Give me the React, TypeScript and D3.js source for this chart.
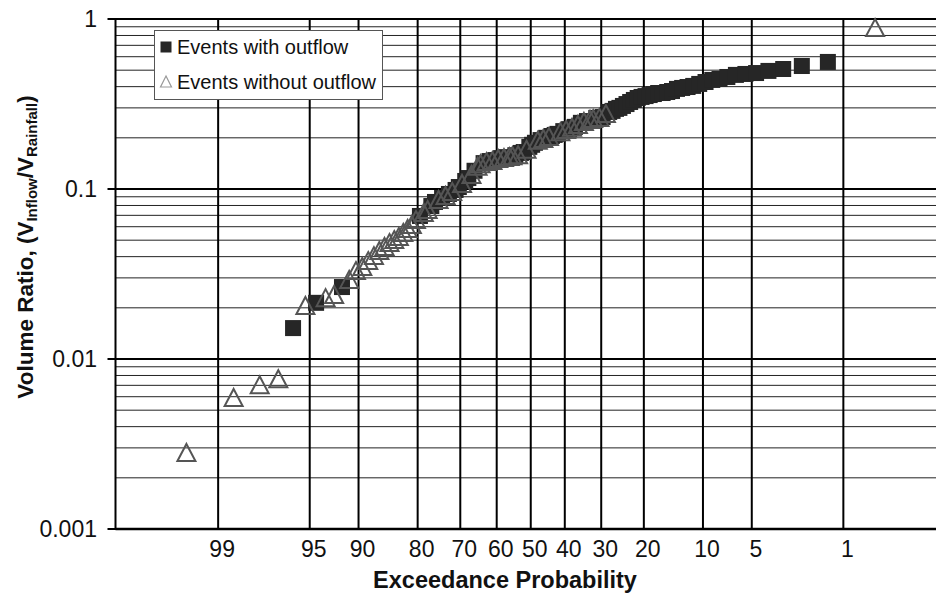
import React from "react";
import * as d3 from "d3";

// ---------------- data ----------------
const N_EVENTS = 120; // total ranked events (plotting position: Blom)

const withOutflowRank = [5, 7, 10, 25, 28, 29, 31, 33, 35, 36, 38, 39, 41, 44, 46, 48, 50, 52, 55, 57, 58, 60, 61, 62, 64, 66, 68, 69, 70, 72, 74, 76, 78, 80, 83, 85, 87, 88, 89, 90, 91, 92, 93, 94, 95, 96, 97, 98, 99, 100, 101, 102, 103, 104, 105, 106, 107, 108, 109, 110, 111, 112, 113, 114, 115, 116, 117, 118, 119];
const withOutflowValue = [0.0152, 0.0214, 0.0265, 0.0694, 0.0794, 0.0839, 0.0885, 0.0935, 0.0987, 0.1027, 0.1115, 0.116, 0.128, 0.142, 0.146, 0.148, 0.152, 0.154, 0.158, 0.163, 0.165, 0.177, 0.182, 0.187, 0.194, 0.2, 0.205, 0.208, 0.211, 0.219, 0.225, 0.232, 0.245, 0.251, 0.262, 0.265, 0.284, 0.288, 0.296, 0.3, 0.308, 0.316, 0.325, 0.334, 0.343, 0.348, 0.352, 0.357, 0.362, 0.367, 0.367, 0.372, 0.377, 0.388, 0.393, 0.398, 0.404, 0.415, 0.426, 0.438, 0.444, 0.456, 0.469, 0.475, 0.481, 0.495, 0.508, 0.529, 0.559];

const withoutOutflowRank = [1, 2, 3, 4, 6, 8, 9, 11, 12, 13, 14, 15, 16, 17, 18, 19, 20, 21, 22, 23, 24, 26, 27, 30, 32, 34, 37, 40, 42, 43, 45, 47, 49, 51, 53, 54, 56, 59, 63, 65, 67, 71, 73, 75, 77, 79, 81, 82, 84, 86, 120];
const withoutOutflowValue = [0.0028, 0.0059, 0.007, 0.0076, 0.0205, 0.0228, 0.0238, 0.0292, 0.0329, 0.0348, 0.0377, 0.0403, 0.0432, 0.0456, 0.0481, 0.0501, 0.0522, 0.0551, 0.0582, 0.0614, 0.0657, 0.0723, 0.0752, 0.0862, 0.091, 0.096, 0.107, 0.121, 0.135, 0.14, 0.144, 0.146, 0.15, 0.152, 0.154, 0.156, 0.158, 0.17, 0.192, 0.197, 0.202, 0.216, 0.222, 0.229, 0.238, 0.248, 0.255, 0.258, 0.262, 0.276, 0.885];

const xTickValues = [99, 95, 90, 80, 70, 60, 50, 40, 30, 20, 10, 5, 1];
const xTickLabels = ["99", "95", "90", "80", "70", "60", "50", "40", "30", "20", "10", "5", "1"];
const yTickValues = [1, 0.1, 0.01, 0.001];
const yTickLabels = ["1", "0.1", "0.01", "0.001"];
const legendLabels = ["Events with outflow", "Events without outflow"];

// ---------------- helpers ----------------
function probit(p: number): number {
  const a = [-3.969683028665376e1, 2.209460984245205e2, -2.759285104469687e2, 1.38357751867269e2, -3.066479806614716e1, 2.506628277459239];
  const b = [-5.447609879822406e1, 1.615858368580409e2, -1.556989798598866e2, 6.680131188771972e1, -1.328068155288572e1];
  const c = [-7.784894002430293e-3, -3.223964580411365e-1, -2.400758277161838, -2.549732539343734, 4.374664141464968, 2.938163982698783];
  const d = [7.784695709041462e-3, 3.224671290700398e-1, 2.445134137142996, 3.754408661907416];
  const pl = 0.02425;
  if (p < pl) {
    const q = Math.sqrt(-2 * Math.log(p));
    return (((((c[0] * q + c[1]) * q + c[2]) * q + c[3]) * q + c[4]) * q + c[5]) / ((((d[0] * q + d[1]) * q + d[2]) * q + d[3]) * q + 1);
  }
  if (p <= 1 - pl) {
    const q = p - 0.5, r = q * q;
    return ((((((a[0] * r + a[1]) * r + a[2]) * r + a[3]) * r + a[4]) * r + a[5]) * q) / (((((b[0] * r + b[1]) * r + b[2]) * r + b[3]) * r + b[4]) * r + 1);
  }
  const q = Math.sqrt(-2 * Math.log(1 - p));
  return -(((((c[0] * q + c[1]) * q + c[2]) * q + c[3]) * q + c[4]) * q + c[5]) / ((((d[0] * q + d[1]) * q + d[2]) * q + d[3]) * q + 1);
}

// exceedance probability (%) of a ranked event (rank 1 = smallest)
const exceedance = (rank: number) => 100 * (1 - (rank - 0.375) / (N_EVENTS + 0.25));

const W = 936, H = 595;
const PL = 115.5, PR = 946, PT = 19, PB = 529;

const zScale = d3.scaleLinear().domain([probit(0.001), probit(0.999)]).range([PL, PR]);
const xPos = (exc: number) => zScale(probit(1 - exc / 100));
const yScale = d3.scaleLog().domain([0.001, 1]).range([PB, PT]);

const FONT = "'Liberation Sans', Arial, Helvetica, sans-serif";

export default function App() {
  const minorY: number[] = [];
  [0.001, 0.01, 0.1].forEach((dec) => {
    for (let k = 2; k <= 9; k++) minorY.push(k * dec);
  });

  const squares = withOutflowRank.map((r, i) => ({ x: xPos(exceedance(r)), y: yScale(withOutflowValue[i]) }));
  const triangles = withoutOutflowRank.map((r, i) => ({ x: xPos(exceedance(r)), y: yScale(withoutOutflowValue[i]) }));

  const sq = 16;
  const triW = 18, triH = 16;
  const triPath = (x: number, y: number, w: number, h: number) =>
    `M${x},${y - h / 2 - 1}L${x + w / 2},${y + h / 2}L${x - w / 2},${y + h / 2}Z`;

  return (
    <svg width={W} height={H} style={{ position: "absolute", left: 0, top: 0, background: "#fff" }} fontFamily={FONT}>
      <rect x={0} y={0} width={W} height={H} fill="#fff" />
      {/* minor horizontal gridlines */}
      {minorY.map((v, i) => (
        <line key={"mh" + i} x1={PL} x2={W} y1={yScale(v)} y2={yScale(v)} stroke="#222" strokeWidth={1} />
      ))}
      {/* major horizontal gridlines + ticks */}
      {yTickValues.map((v, i) => (
        <line key={"Mh" + i} x1={PL - 8} x2={W} y1={yScale(v)} y2={yScale(v)} stroke="#000" strokeWidth={2} />
      ))}
      {/* vertical gridlines */}
      {xTickValues.map((v, i) => (
        <line key={"v" + i} x1={xPos(v)} x2={xPos(v)} y1={PT} y2={PB} stroke="#000" strokeWidth={2} />
      ))}
      {/* axes */}
      <line x1={PL} x2={PL} y1={PT - 1} y2={PB + 1} stroke="#000" strokeWidth={2} />
      <line x1={PL} x2={W} y1={PB} y2={PB} stroke="#000" strokeWidth={2.5} />

      {/* squares */}
      {squares.map((p, i) => (
        <rect key={"s" + i} x={p.x - sq / 2} y={p.y - sq / 2} width={sq} height={sq} fill="#262626" />
      ))}
      {/* triangles */}
      {triangles.map((p, i) => (
        <path key={"t" + i} d={triPath(p.x, p.y, triW, triH)} fill="none" stroke="#555" strokeWidth={2} strokeLinejoin="miter" />
      ))}

      {/* y tick labels */}
      {yTickValues.map((v, i) => (
        <text key={"yl" + i} x={97} y={yScale(v)} dy="0.36em" textAnchor="end" fontSize={23} fill="#111">
          {yTickLabels[i]}
        </text>
      ))}
      {/* x tick labels */}
      {xTickValues.map((v, i) => (
        <text key={"xl" + i} x={xPos(v) + 4} y={557} textAnchor="middle" fontSize={23} fill="#111">
          {xTickLabels[i]}
        </text>
      ))}

      {/* axis titles */}
      <text x={505} y={588} textAnchor="middle" fontSize={23.5} fontWeight="bold" fill="#111">
        Exceedance Probability
      </text>
      <text transform="translate(33,247) rotate(-90)" textAnchor="middle" fontSize={22.5} fontWeight="bold" fill="#111">
        Volume Ratio, (V
        <tspan fontSize={15} dy={4}>Inflow</tspan>
        <tspan dy={-4}>/V</tspan>
        <tspan fontSize={15} dy={4}>Rainfall</tspan>
        <tspan dy={-4}>)</tspan>
      </text>

      {/* legend */}
      <g>
        <rect x={154.5} y={30.5} width={228} height={69} fill="#fff" stroke="#555" strokeWidth={1} />
        <rect x={160.5} y={41.5} width={11} height={11} fill="#262626" />
        <path d={triPath(166, 82, 11, 10)} fill="none" stroke="#999" strokeWidth={1.2} />
        <text x={177} y={54} fontSize={20} fill="#111">{legendLabels[0]}</text>
        <text x={177} y={89} fontSize={20} fill="#111">{legendLabels[1]}</text>
      </g>
    </svg>
  );
}
